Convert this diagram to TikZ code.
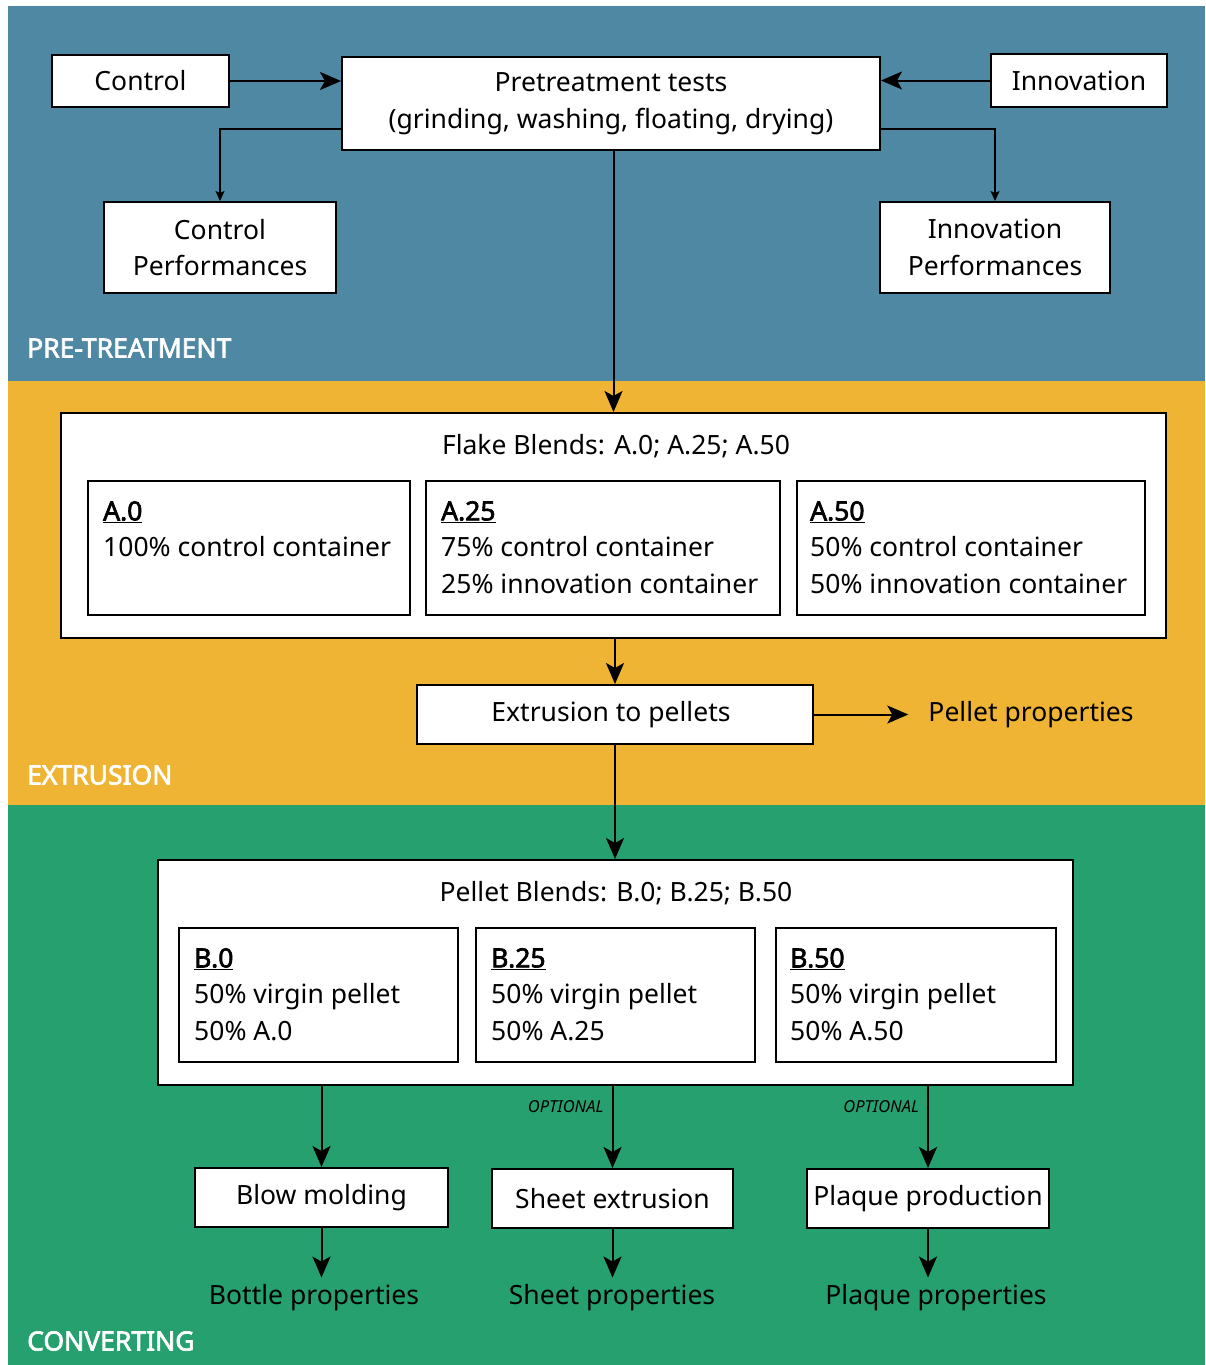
\documentclass[tikz,border=0pt]{standalone}
\usepackage{fontspec}
\setmainfont{Noto Sans}[BoldFont={Noto Sans},BoldFeatures={FakeBold=2.5}]
\usetikzlibrary{arrows.meta,calc}
\definecolor{bandblue}{RGB}{79,136,163}
\definecolor{bandyellow}{RGB}{240,180,52}
\definecolor{bandgreen}{RGB}{38,160,110}
\newcommand\mainfs{\fontsize{26.5}{36.5}\selectfont}
\newcommand\optfs{\fontsize{16.5}{20}\selectfont\itshape}
\newcommand\hd[1]{\underline{\textbf{#1}}}
\begin{document}
\begin{tikzpicture}[x=1pt,y=-1pt,
  box/.style={draw=black, line width=2pt, fill=white, inner sep=0pt, align=center, font=\mainfs},
  txt/.style={inner sep=0pt, align=left, font=\mainfs},
  sect/.style={inner sep=0pt, anchor=west, text=white, font=\mainfs\bfseries},
  optl/.style={inner sep=0pt, font=\optfs},
  arr/.style={line width=2pt, -{Stealth[length=21pt,width=18pt,inset=5pt]}},
  thinarr/.style={line width=1.3pt, -{Stealth[length=10pt,width=9pt,inset=2pt]}},
  ln/.style={line width=2pt}]
\useasboundingbox (0,0) rectangle (1205,1365);
\fill[white] (0,0) rectangle (1205,1365);
\fill[bandblue] (8,6) rectangle (1205,381);
\fill[bandyellow] (8,381) rectangle (1205,805);
\fill[bandgreen] (8,805) rectangle (1205,1365);

% section labels
\node[sect] (lpre) at (27,348) {PRE-TREATMENT};
\node[sect] (lext) at (27,775) {EXTRUSION};
\node[sect] (lconv) at (27,1341) {CONVERTING};

% pretreatment
\node[box, minimum width=177pt, minimum height=52pt] (ctrl) at (140.5,81) {Control};
\node[box, minimum width=538pt, minimum height=93pt] (pre) at (611,103.5) {Pretreatment tests\\(grinding, washing, floating, drying)};
\node[box, minimum width=176pt, minimum height=53pt] (innov) at (1079,80.5) {Innovation};
\node[box, minimum width=232pt, minimum height=91pt] (cperf) at (220,247.5) {Control\\Performances};
\node[box, minimum width=230pt, minimum height=91pt] (iperf) at (995,247.5) {Innovation\\Performances};

\draw[arr] (ctrl.east) -- (ctrl.east -| pre.west);
\draw[arr] (innov.west) -- (innov.west -| pre.east);
\draw[thinarr] ([yshift=-25.5pt]pre.west) -| (cperf.north);
\draw[thinarr] ([yshift=-25.5pt]pre.east) -| (iperf.north);

% extrusion
\node[box, minimum width=1105pt, minimum height=225pt] (flake) at (613.5,525.5) {};
\node[txt] (flaket) at (616,446) {Flake Blends: A.0; A.25; A.50};
\node[box, minimum width=322pt, minimum height=134pt] (a0) at (249,548) {};
\node[box, minimum width=354pt, minimum height=134pt] (a25) at (603,548) {};
\node[box, minimum width=348pt, minimum height=134pt] (a50) at (971,548) {};
\node[txt, anchor=north west] (a0t) at ([xshift=16pt,yshift=-21pt]a0.north west) {\hd{A.0}\\100\% control container};
\node[txt, anchor=north west] (a25t) at ([xshift=16pt,yshift=-21pt]a25.north west) {\hd{A.25}\\75\% control container\\25\% innovation container};
\node[txt, anchor=north west] (a50t) at ([xshift=14pt,yshift=-21pt]a50.north west) {\hd{A.50}\\50\% control container\\50\% innovation container};

\draw[arr] (flake.north |- pre.south) -- (flake.north);

\node[box, minimum width=396pt, minimum height=59pt] (extr) at (615,714.5) {\hspace*{-8pt}Extrusion to pellets};
\node[txt] (pellp) at (1031,715) {Pellet properties};
\draw[arr] (flake.south -| extr.north) -- (extr.north);
\draw[arr, shorten >=20pt] (extr.east) -- (extr.east -| pellp.west);

% converting
\node[box, minimum width=915pt, minimum height=225pt] (pellet) at (615.5,972.5) {};
\node[txt] (pellett) at (616,893) {Pellet Blends: B.0; B.25; B.50};
\node[box, minimum width=279pt, minimum height=134pt] (b0) at (318.5,995) {};
\node[box, minimum width=279pt, minimum height=134pt] (b25) at (615.5,995) {};
\node[box, minimum width=280pt, minimum height=134pt] (b50) at (916,995) {};
\node[txt, anchor=north west] (b0t) at ([xshift=16pt,yshift=-21pt]b0.north west) {\hd{B.0}\\50\% virgin pellet\\50\% A.0};
\node[txt, anchor=north west] (b25t) at ([xshift=16pt,yshift=-21pt]b25.north west) {\hd{B.25}\\50\% virgin pellet\\50\% A.25};
\node[txt, anchor=north west] (b50t) at ([xshift=15pt,yshift=-21pt]b50.north west) {\hd{B.50}\\50\% virgin pellet\\50\% A.50};

\draw[arr] (extr.south) -- (extr.south |- pellet.north);

\node[box, minimum width=253pt, minimum height=59pt] (blow) at (321.5,1197.5) {Blow molding};
\node[box, minimum width=241pt, minimum height=59pt] (sheet) at (612.5,1198.5) {Sheet extrusion};
\node[box, minimum width=242pt, minimum height=59pt] (plaque) at (928,1198.5) {Plaque production};

\draw[arr] (pellet.south -| blow.north) -- (blow.north);
\draw[arr] (pellet.south -| sheet.north) -- node[optl, pos=0.25, anchor=east, xshift=-8pt] (opt1) {OPTIONAL} (sheet.north);
\draw[arr] (pellet.south -| plaque.north) -- node[optl, pos=0.25, anchor=east, xshift=-8pt] (opt2) {OPTIONAL} (plaque.north);

\node[txt] (bottlep) at (314,1298) {Bottle properties};
\node[txt] (sheetp) at (612,1298) {Sheet properties};
\node[txt] (plaquep) at (936,1298) {Plaque properties};

\draw[arr, shorten >=7pt] (blow.south) -- (blow.south |- bottlep.north);
\draw[arr, shorten >=7pt] (sheet.south) -- (sheet.south |- sheetp.north);
\draw[arr, shorten >=7pt] (plaque.south) -- (plaque.south |- plaquep.north);
\end{tikzpicture}
\end{document}
